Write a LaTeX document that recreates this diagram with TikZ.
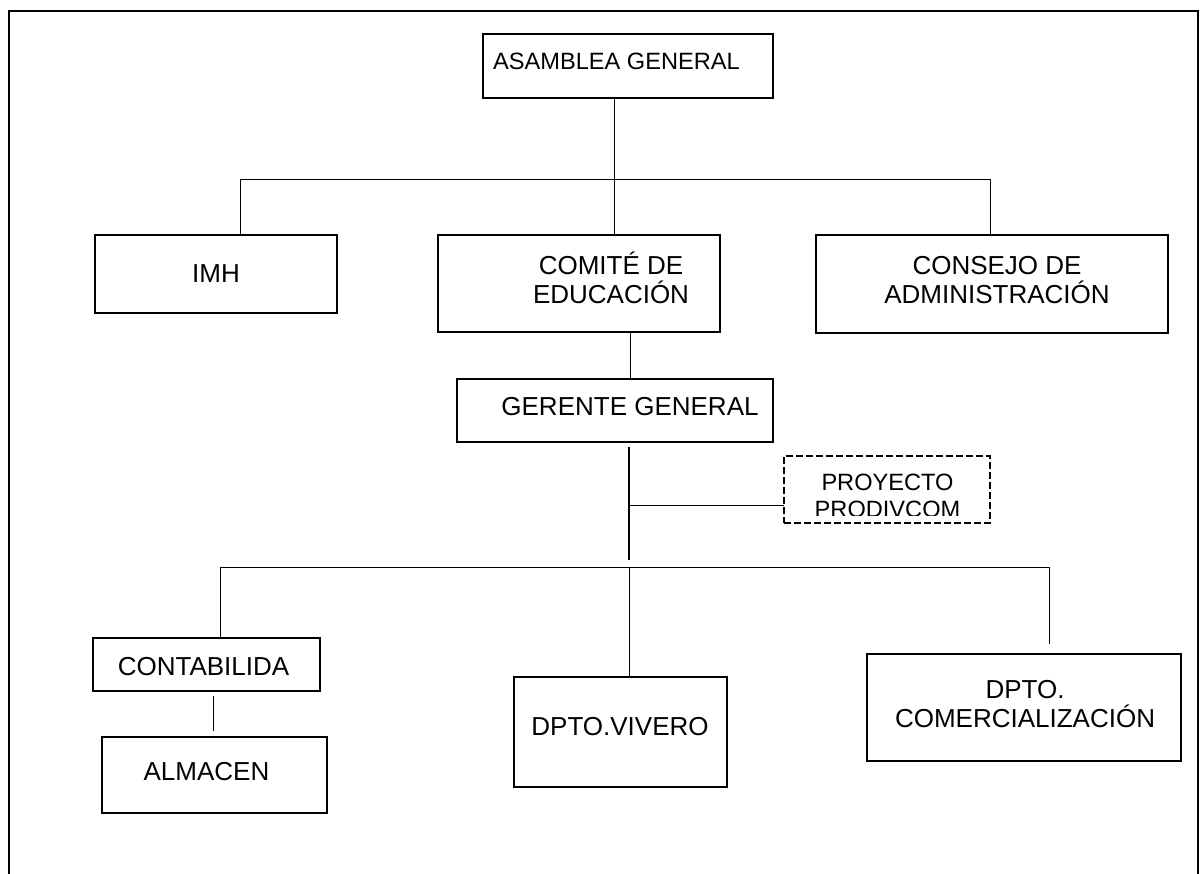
\documentclass[tikz,border=0pt]{standalone}
\usepackage{fontspec}
\setmainfont{Liberation Sans}
\begin{document}
\begin{tikzpicture}[x=1pt,y=-1pt,
  box/.style={draw,line width=2pt,inner sep=0pt,outer sep=0pt},
  dbox/.style={box,dash pattern=on 7pt off 3pt},
  conn/.style={line width=1pt},
  spine/.style={line width=2.8pt},
  txt/.style={anchor=base,inner sep=0pt,font=\fontsize{26}{29}\selectfont},
  stxt/.style={anchor=base,inner sep=0pt,font=\fontsize{23.6}{27}\selectfont}]
\useasboundingbox (0,0) rectangle (1201,874);
% page frame, open at the bottom
\draw[line width=2.5pt] (9,874) -- (9,11) -- (1198,11) -- (1198,874);

% boxes
\node[box,minimum width=290pt,minimum height=64pt] (asamblea) at (628,66) {};
\node[box,minimum width=242pt,minimum height=78pt] (imh) at (216,274) {};
\node[box,minimum width=282pt,minimum height=97pt] (comite) at (579,283.5) {};
\node[box,minimum width=352pt,minimum height=98pt] (consejo) at (992,284) {};
\node[box,minimum width=316pt,minimum height=63pt] (gerente) at (615,410.5) {};
\node[dbox,minimum width=206pt,minimum height=67pt] (proyecto) at (887,489.5) {};
\node[box,minimum width=227pt,minimum height=53pt] (contab) at (206.5,664.5) {};
\node[box,minimum width=225pt,minimum height=76pt] (almacen) at (214.5,775) {};
\node[box,minimum width=213pt,minimum height=110pt] (vivero) at (620.5,732) {};
\node[box,minimum width=314pt,minimum height=107pt] (comerc) at (1024,707.5) {};

% labels
\node[stxt] (tAsamblea) at (616.5,70) {ASAMBLEA GENERAL};
\node[txt] (tImh) at (216,283) {IMH};
\node[txt] (tComite1) at (611,275) {COMITÉ DE};
\node[txt] (tComite2) at (611,304) {EDUCACIÓN};
\node[txt] (tConsejo1) at (997,275) {CONSEJO DE};
\node[txt] (tConsejo2) at (997,304) {ADMINISTRACIÓN};
\node[txt] (tGerente) at (630,415) {GERENTE GENERAL};
\begin{scope}
  \clip (786,458) rectangle (988,515);
  \node[stxt] (tProy1) at (887.5,490) {PROYECTO};
  \node[stxt] (tProy2) at (887.5,517) {PRODIVCOM};
\end{scope}
\node[txt] (tContab) at (203.5,675) {CONTABILIDA};
\node[txt] (tAlmacen) at (206.5,780) {ALMACEN};
\node[txt] (tVivero) at (620,735) {DPTO.VIVERO};
\node[txt] (tComerc1) at (1025,698) {DPTO.};
\node[txt] (tComerc2) at (1025,727) {COMERCIALIZACIÓN};

% junction points
\coordinate (v1) at (614,180);
\coordinate (busL) at (240,180);
\coordinate (busR) at (990,180);
\coordinate (v2) at (630,0);
\coordinate (sTop) at (629,447);
\coordinate (sMid) at (629,505);
\coordinate (sBot) at (629,560);
\coordinate (bus2L) at (220,567);
\coordinate (bus2M) at (629,567);
\coordinate (bus2R) at (1049,567);
\coordinate (cEnd) at (1049,644);
\coordinate (v3) at (213,0);

% connectors
\draw[conn] (asamblea.south -| v1) -- (comite.north -| v1);
\draw[conn] (imh.north -| busL) -- (busL) -- (busR) -- (consejo.north -| busR);
\draw[conn] (comite.south -| v2) -- (gerente.north -| v2);
\draw[spine] (sTop) -- (sBot);
\draw[conn] (sMid) -- (proyecto.west |- sMid);
\draw[conn] (contab.north -| bus2L) -- (bus2L) -- (bus2R) -- (cEnd);
\draw[conn] (bus2M) -- (vivero.north -| bus2M);
\draw[conn] ([yshift=-5pt]contab.south -| v3) -- ([yshift=6pt]almacen.north -| v3);
\end{tikzpicture}
\end{document}
